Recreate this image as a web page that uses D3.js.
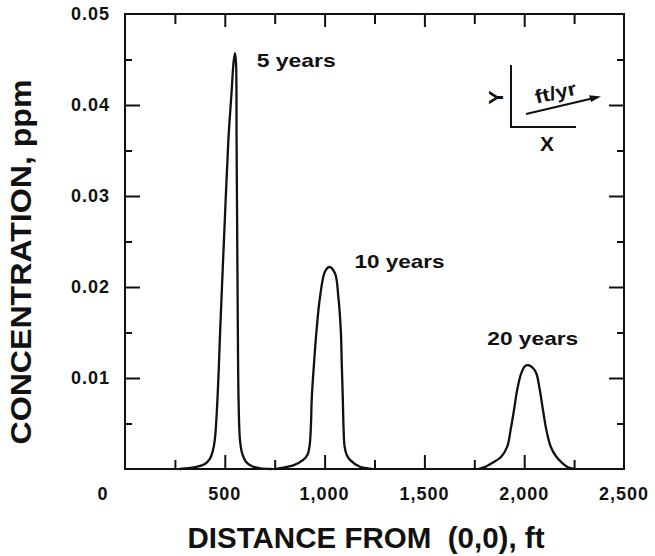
<!DOCTYPE html>
<html>
<head>
<meta charset="utf-8">
<script src="https://cdn.jsdelivr.net/npm/d3@7"></script>
<style>
  html, body { margin: 0; padding: 0; background: #fff; }
  svg { display: block; }
  text { font-family: "Liberation Sans", Arial, Helvetica, sans-serif; font-weight: bold; fill: #111; }
</style>
</head>
<body>
<svg id="chart" width="655" height="556"></svg>
<script>
// Plume concentration along the flow line at three travel times
const seriesNames = ["5 years", "10 years", "20 years"];

// distance from (0,0), ft
const dist5 = [275, 350, 400, 425, 440, 450, 463, 479, 498, 518, 533, 544, 551, 556, 559, 562, 565, 569, 576, 586, 606, 636, 686, 735];
// concentration, ppm
const conc5 = [0, 0.0002, 0.00055, 0.0011, 0.002, 0.0032, 0.0076, 0.0164, 0.0263, 0.0362, 0.0411, 0.0447, 0.0457, 0.0447, 0.0362, 0.0263, 0.0164, 0.0076, 0.0032, 0.0018, 0.0008, 0.0003, 0.00005, 0];

const dist10 = [752, 777, 843, 893, 915, 925, 931, 936, 947, 960, 977, 1002, 1024, 1052, 1069, 1081, 1086, 1091, 1095, 1100, 1110, 1127, 1177, 1211, 1237];
const conc10 = [0, 0.0001, 0.0004, 0.001, 0.0016, 0.0026, 0.0045, 0.0079, 0.0116, 0.0153, 0.0189, 0.0217, 0.0222, 0.0215, 0.0189, 0.0153, 0.0116, 0.0079, 0.0045, 0.0025, 0.0016, 0.001, 0.00025, 0.0001, 0];

const dist20 = [1770, 1802, 1835, 1885, 1915, 1932, 1949, 1965, 1985, 2004, 2022, 2044, 2061, 2078, 2094, 2111, 2133, 2161, 2194, 2219, 2250];
const conc20 = [0, 0.0002, 0.0006, 0.00135, 0.00245, 0.0043, 0.0065, 0.0087, 0.0105, 0.0113, 0.0114, 0.0111, 0.0105, 0.0087, 0.0065, 0.0043, 0.00245, 0.00135, 0.0006, 0.0002, 0];

const xMajorTicks = [0, 500, 1000, 1500, 2000, 2500];
const xTickLabels = ["0", "500", "1,000", "1,500", "2,000", "2,500"];
const xMinorTicks = [250, 750, 1250, 1750, 2250];
const yMajorTicks = [0.01, 0.02, 0.03, 0.04, 0.05];
const yTickLabels = ["0.01", "0.02", "0.03", "0.04", "0.05"];
const yMinorTicks = [0.005, 0.015, 0.025, 0.035, 0.045];

const svg = d3.select("#chart");
const plotLeft = 125, plotRight = 624, plotTop = 14, plotBottom = 469;

const x = d3.scaleLinear().domain([0, 2500]).range([plotLeft, plotRight]);
const y = d3.scaleLinear().domain([0, 0.05]).range([plotBottom, plotTop]);

// frame
svg.append("rect")
  .attr("x", plotLeft).attr("y", plotTop)
  .attr("width", plotRight - plotLeft).attr("height", plotBottom - plotTop)
  .attr("fill", "none").attr("stroke", "#111").attr("stroke-width", 2);

// inward tick marks on all four sides
function ticks(axis, values, size, transform) {
  const g = svg.append("g").attr("transform", transform)
    .call(axis.tickValues(values).tickSizeInner(-size).tickSizeOuter(0).tickFormat(""));
  g.select(".domain").remove();
  g.selectAll(".tick line").attr("stroke", "#111").attr("stroke-width", 2);
}
const xInner = xMajorTicks.filter(d => d > 0 && d < 2500);
ticks(d3.axisBottom(x), xInner, 14, `translate(0,${plotBottom})`);
ticks(d3.axisBottom(x), xMinorTicks, 9, `translate(0,${plotBottom})`);
ticks(d3.axisTop(x), xInner, 13, `translate(0,${plotTop})`);
ticks(d3.axisTop(x), xMinorTicks, 10, `translate(0,${plotTop})`);
const yInner = yMajorTicks.filter(d => d < 0.05);
ticks(d3.axisLeft(y), yInner, 15, `translate(${plotLeft},0)`);
ticks(d3.axisLeft(y), yMinorTicks, 7, `translate(${plotLeft},0)`);
ticks(d3.axisRight(y), yInner, 15, `translate(${plotRight},0)`);
ticks(d3.axisRight(y), yMinorTicks, 7, `translate(${plotRight},0)`);

// x tick labels; the origin label sits at the corner
svg.append("g").selectAll("text")
  .data(xMajorTicks)
  .join("text")
  .attr("x", d => d === 0 ? x(d) - 22 : x(d))
  .attr("y", 500)
  .attr("text-anchor", "middle")
  .attr("font-size", 18)
  .attr("letter-spacing", 1)
  .text((d, i) => xTickLabels[i]);

// y tick labels
svg.append("g").selectAll("text")
  .data(yMajorTicks)
  .join("text")
  .attr("x", plotLeft - 15)
  .attr("y", d => y(d))
  .attr("dy", "0.35em")
  .attr("text-anchor", "end")
  .attr("font-size", 18)
  .attr("letter-spacing", 1)
  .text((d, i) => yTickLabels[i]);

// axis titles
svg.append("text")
  .attr("x", 366).attr("y", 548)
  .attr("text-anchor", "middle")
  .attr("font-size", 29)
  .style("white-space", "pre")
  .attr("textLength", 357)
  .attr("lengthAdjust", "spacingAndGlyphs")
  .text("DISTANCE FROM  (0,0), ft");

svg.append("text")
  .attr("transform", "translate(31,262) rotate(-90)")
  .attr("text-anchor", "middle")
  .attr("font-size", 30)
  .attr("textLength", 365)
  .attr("lengthAdjust", "spacingAndGlyphs")
  .text("CONCENTRATION, ppm");

// concentration curves
const line = d3.line()
  .x(d => x(d[0]))
  .y(d => y(d[1]))
  .curve(d3.curveCatmullRom.alpha(0.5));

const curves = [
  d3.zip(dist5, conc5),
  d3.zip(dist10, conc10),
  d3.zip(dist20, conc20)
];

svg.append("g").selectAll("path")
  .data(curves)
  .join("path")
  .attr("d", line)
  .attr("fill", "none")
  .attr("stroke", "#111")
  .attr("stroke-width", 2.3)
  .attr("stroke-linejoin", "round");

// travel-time labels, placed in data coordinates
const labelAt = [[660, 0.0442], [1150, 0.0221], [1815, 0.0136]];
const labelWidth = [79, 90, 91];
svg.append("g").selectAll("text")
  .data(seriesNames)
  .join("text")
  .attr("x", (d, i) => x(labelAt[i][0]))
  .attr("y", (d, i) => y(labelAt[i][1]))
  .attr("font-size", 19)
  .attr("textLength", (d, i) => labelWidth[i])
  .attr("lengthAdjust", "spacingAndGlyphs")
  .text(d => d);

// flow-direction inset
const inset = svg.append("g");
inset.append("path")
  .attr("d", "M511,65 L511,127 L576,127")
  .attr("fill", "none").attr("stroke", "#111").attr("stroke-width", 2);
inset.append("line")
  .attr("x1", 526).attr("y1", 114).attr("x2", 592).attr("y2", 98.5)
  .attr("stroke", "#111").attr("stroke-width", 2.2);
inset.append("path")
  .attr("d", "M601,96.5 L589,95.3 L591.2,102.1 Z")
  .attr("fill", "#111");
inset.append("text")
  .attr("transform", "translate(557,99) rotate(-13)")
  .attr("text-anchor", "middle")
  .attr("font-size", 19)
  .attr("textLength", 42)
  .attr("lengthAdjust", "spacingAndGlyphs")
  .text("ft/yr");
inset.append("text")
  .attr("transform", "translate(503,97.5) rotate(-90)")
  .attr("text-anchor", "middle")
  .attr("font-size", 21)
  .text("Y");
inset.append("text")
  .attr("x", 547).attr("y", 151)
  .attr("text-anchor", "middle")
  .attr("font-size", 21)
  .text("X");
</script>
</body>
</html>
